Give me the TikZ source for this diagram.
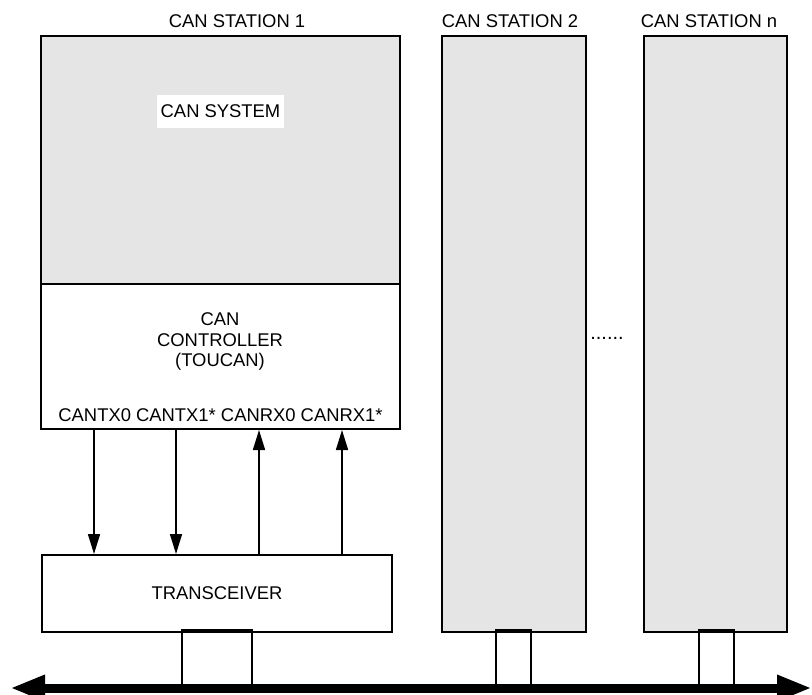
\documentclass[tikz,border=0pt]{standalone}
\usepackage{fontspec}
\setmainfont{Liberation Sans}
\usetikzlibrary{arrows.meta}
\definecolor{boxgray}{HTML}{E5E5E5}
\begin{document}
\begin{tikzpicture}[x=1pt,y=-1pt,
  every node/.style={font=\fontsize{18.4}{20.5}\selectfont},
  blk/.style={draw=black,line width=2pt,inner sep=0pt,anchor=north west},
  graybox/.style={blk,fill=boxgray},
  whitebox/.style={blk,fill=white},
  lbl/.style={inner sep=0pt},
  sig/.style={line width=1.6pt,-{Triangle[length=20pt,width=12pt]}},
  stub/.style={draw=black,line width=2pt},
  bus/.style={line width=9pt,{Triangle[length=35pt,width=24pt]}-{Triangle[length=35pt,width=24pt]}}]
\useasboundingbox (0,0) rectangle (812,695);
% station 1
\node[graybox,minimum width=359pt,minimum height=248pt] (sys) at (40,35) {};
\node[whitebox,minimum width=359pt,minimum height=145pt] (ctrl) at (40,283) {};
\node[fill=white,inner sep=0pt,minimum width=127pt,minimum height=33pt] (syslbl) at (220.5,111.5) {CAN SYSTEM};
\node[lbl,align=center] (ctrllbl) at (220,341.5) {CAN\\CONTROLLER\\(TOUCAN)};
\node[lbl] (pins) at (220.5,415) {CANTX0 CANTX1* CANRX0 CANRX1*};
\node[whitebox,minimum width=350pt,minimum height=77pt] (trx) at (41,554) {};
\node[lbl] (trxlbl) at (trx.center) {TRANSCEIVER};
% stations 2 and n
\node[graybox,minimum width=144pt,minimum height=596pt] (st2) at (441,35) {};
\node[graybox,minimum width=143pt,minimum height=596pt] (stn) at (643,35) {};
% labels
\node[lbl] (t1) at (237,21) {CAN STATION 1};
\node[lbl] (t2) at (510,21) {CAN STATION 2};
\node[lbl] (tn) at (709,21) {CAN STATION n};
\node[lbl,font=\fontsize{20}{20}\selectfont] (dots) at (607,338) {......};
% signal arrows
\coordinate (a1) at (94,0);
\coordinate (a2) at (176,0);
\coordinate (a3) at (259,0);
\coordinate (a4) at (342,0);
\draw[sig] (ctrl.south -| a1) -- (trx.north -| a1);
\draw[sig] (ctrl.south -| a2) -- (trx.north -| a2);
\draw[sig] (trx.north -| a3) -- (ctrl.south -| a3);
\draw[sig] (trx.north -| a4) -- (ctrl.south -| a4);
% bus
\coordinate (busL) at (10,688);
\coordinate (busR) at (812,688);
% stubs
\draw[stub] (182,688) -- (182,630) -- (252,630) -- (252,688);
\draw[stub] (496,688) -- (496,630) -- (531,630) -- (531,688);
\draw[stub] (699,688) -- (699,630) -- (734,630) -- (734,688);
\draw[bus] (busL) -- (busR);
\end{tikzpicture}
\end{document}
